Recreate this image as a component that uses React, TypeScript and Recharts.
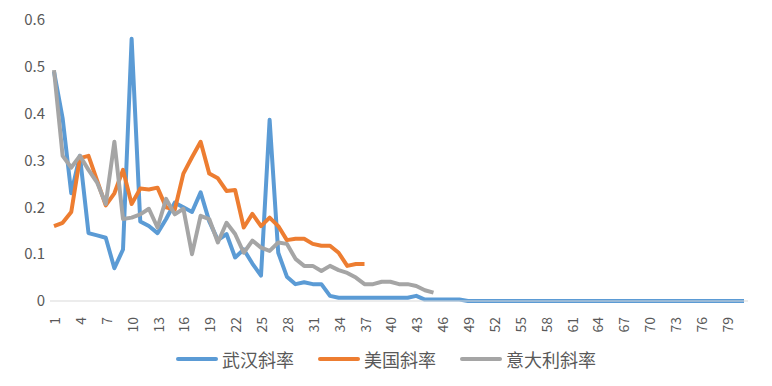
import React from 'react';
import { LineChart, Line, XAxis, YAxis, Legend } from 'recharts';

const categories = [
  '1', '2', '3', '4', '5', '6', '7', '8', '9', '10', '11', '12', '13', '14', '15', '16', '17', '18', '19', '20',
  '21', '22', '23', '24', '25', '26', '27', '28', '29', '30', '31', '32', '33', '34', '35', '36', '37', '38', '39', '40',
  '41', '42', '43', '44', '45', '46', '47', '48', '49', '50', '51', '52', '53', '54', '55', '56', '57', '58', '59', '60',
  '61', '62', '63', '64', '65', '66', '67', '68', '69', '70', '71', '72', '73', '74', '75', '76', '77', '78', '79', '80',
  '81',
];

const wuhan = [
  0.49, 0.39, 0.23, 0.31, 0.145, 0.14, 0.135, 0.07, 0.11, 0.56,
  0.17, 0.16, 0.145, 0.175, 0.21, 0.2, 0.19, 0.232, 0.17, 0.13,
  0.143, 0.093, 0.11, 0.08, 0.054, 0.387, 0.103, 0.052, 0.036, 0.04,
  0.036, 0.036, 0.011, 0.007, 0.007, 0.007, 0.007, 0.007, 0.007, 0.007,
  0.007, 0.007, 0.011, 0.003, 0.003, 0.003, 0.003, 0.003, 0, 0,
  0, 0, 0, 0, 0, 0, 0, 0, 0, 0,
  0, 0, 0, 0, 0, 0, 0, 0, 0, 0,
  0, 0, 0, 0, 0, 0, 0, 0, 0, 0,
  0,
];

const usa = [
  0.16, 0.167, 0.19, 0.305, 0.31, 0.257, 0.204, 0.23, 0.28, 0.207,
  0.24, 0.238, 0.242, 0.2, 0.195, 0.272, 0.307, 0.34, 0.272, 0.262,
  0.235, 0.237, 0.157, 0.186, 0.16, 0.178, 0.16, 0.13, 0.133, 0.133,
  0.122, 0.118, 0.118, 0.103, 0.075, 0.079, 0.079,
];

const italy = [
  0.493, 0.31, 0.285, 0.31, 0.28, 0.253, 0.207, 0.34, 0.175, 0.178,
  0.185, 0.197, 0.157, 0.218, 0.185, 0.197, 0.1, 0.182, 0.175, 0.125,
  0.167, 0.143, 0.103, 0.129, 0.114, 0.107, 0.125, 0.122, 0.09, 0.075,
  0.075, 0.064, 0.075, 0.066, 0.06, 0.05, 0.036, 0.036, 0.041, 0.041,
  0.036, 0.036, 0.032, 0.023, 0.018,
];

const yTicks = [0, 0.1, 0.2, 0.3, 0.4, 0.5, 0.6];

const series = [
  { key: 'wuhan', name: '武汉斜率', color: '#5B9BD5' },
  { key: 'usa', name: '美国斜率', color: '#ED7D31' },
  { key: 'italy', name: '意大利斜率', color: '#A5A5A5' },
];

const data = categories.map((c, i) => ({
  name: c,
  wuhan: i < wuhan.length ? wuhan[i] : null,
  usa: i < usa.length ? usa[i] : null,
  italy: i < italy.length ? italy[i] : null,
}));

const FONT = '"Noto Sans CJK SC", "Noto Sans", sans-serif';

const XTick = (props: any) => {
  const { x, y, payload } = props;
  return (
    <text
      transform={`translate(${x},${y + 8}) rotate(-90)`}
      textAnchor="end"
      dominantBaseline="central"
      fill="#595959"
      fontSize={14}
      fontFamily={FONT}
    >
      {payload.value}
    </text>
  );
};

const LegendContent = () => (
  <div style={{ display: 'flex', justifyContent: 'center', fontFamily: FONT, fontSize: 18, color: '#595959' }}>
    {series.map((s, i) => (
      <div
        key={s.key}
        style={{ display: 'flex', alignItems: 'center', marginLeft: i === 0 ? 0 : 24 }}
      >
        <svg width={42} height={10} style={{ marginRight: 4 }}>
          <line x1={2} y1={5} x2={40} y2={5} stroke={s.color} strokeWidth={4} strokeLinecap="round" />
        </svg>
        <span>{s.name}</span>
      </div>
    ))}
  </div>
);

export default function App() {
  return (
    <div style={{ position: 'absolute', left: 0, top: 0, background: '#fff' }}>
      <LineChart width={772} height={386} data={data} margin={{ top: 20, right: 24, bottom: 16, left: 0 }}>
        <XAxis
          dataKey="name"
          interval={2}
          tick={<XTick />}
          tickLine={false}
          axisLine={{ stroke: '#D9D9D9', strokeWidth: 1 }}
          padding={{ left: 4, right: 4 }}
          height={45}
        />
        <YAxis
          domain={[0, 0.6]}
          ticks={yTicks}
          tickFormatter={(v: number) => (v === 0 ? '0' : v.toFixed(1))}
          axisLine={false}
          tickLine={false}
          width={50}
          tick={{ fill: '#595959', fontSize: 15, fontFamily: FONT, dx: 3 }}
        />
        <Legend
          verticalAlign="bottom"
          height={24}
          wrapperStyle={{ left: 0, width: 772 }}
          content={<LegendContent />}
        />
        {series.map((s) => (
          <Line
            key={s.key}
            type="linear"
            dataKey={s.key}
            name={s.name}
            stroke={s.color}
            strokeWidth={4}
            strokeLinejoin="round"
            dot={false}
            activeDot={false}
            isAnimationActive={false}
          />
        ))}
      </LineChart>
    </div>
  );
}
